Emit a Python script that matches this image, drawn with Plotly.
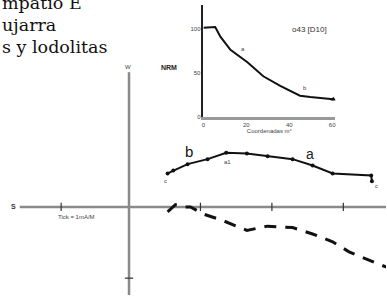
import plotly.graph_objects as go

# ---- main (Zijderveld-style) data, units = ticks ----
solid_x = [0.54, 0.62, 0.82, 1.10, 1.36, 1.65, 1.94, 2.29, 2.57, 2.85, 3.39, 3.40]
solid_y = [0.47, 0.51, 0.60, 0.67, 0.76, 0.75, 0.71, 0.67, 0.58, 0.47, 0.44, 0.36]
dash_x = [0.54, 0.65, 0.78, 0.86, 1.04, 1.31, 1.65, 1.94, 2.29, 2.57, 2.85, 3.08, 3.46, 3.70]
dash_y = [-0.07, 0.03, 0.00, 0.00, -0.10, -0.19, -0.33, -0.27, -0.29, -0.38, -0.49, -0.63, -0.79, -0.88]
hticks = [-0.95, 1, 2, 3]
vticks = [-1]

# ---- inset data ----
inset_x = [0, 5.5, 7.9, 12.6, 20.5, 27.9, 35.8, 45.0, 49.8, 60.5]
inset_y = [101, 102, 91, 76, 62, 46, 35, 24, 22.5, 20]
inset_xticks = [0, 20, 40, 60]
inset_yticks = [0, 50, 100]

fig = go.Figure()

# main axes lines
fig.add_trace(go.Scatter(x=[-1.53, 3.7], y=[0, 0], mode="lines",
                         line=dict(color="#8a8a8a", width=2.5), hoverinfo="skip"))
fig.add_trace(go.Scatter(x=[0, 0], y=[1.89, -1.3], mode="lines",
                         line=dict(color="#8a8a8a", width=2.5), hoverinfo="skip"))
fig.add_trace(go.Scatter(x=hticks, y=[0]*len(hticks), mode="markers",
                         marker=dict(symbol="line-ns", size=6, line=dict(color="#333", width=1.2))))
fig.add_trace(go.Scatter(x=[0]*len(vticks), y=vticks, mode="markers",
                         marker=dict(symbol="line-ew", size=6, line=dict(color="#333", width=1.2))))

# solid (horizontal projection)
fig.add_trace(go.Scatter(x=solid_x, y=solid_y, mode="lines+markers",
                         line=dict(color="#111", width=2),
                         marker=dict(color="#111", size=4)))
# dashed (vertical projection)
fig.add_trace(go.Scatter(x=dash_x, y=dash_y, mode="lines",
                         line=dict(color="#111", width=3, dash="12px,9px")))

# inset
fig.add_trace(go.Scatter(x=inset_x, y=inset_y, mode="lines", xaxis="x2", yaxis="y2",
                         line=dict(color="#111", width=2)))
fig.add_trace(go.Scatter(x=[inset_x[-1]], y=[inset_y[-1]], mode="markers", xaxis="x2", yaxis="y2",
                         marker=dict(symbol="triangle-up", color="#111", size=5)))

fig.update_layout(
    width=387, height=298, margin=dict(l=0, r=0, t=0, b=0),
    paper_bgcolor="white", plot_bgcolor="rgba(0,0,0,0)", showlegend=False,
    xaxis=dict(range=[-128/72, 259/72], domain=[0, 1], visible=False, fixedrange=True),
    yaxis=dict(range=[-89/72, 209/72], domain=[0, 1], visible=False, fixedrange=True),
    xaxis2=dict(domain=[203/387, 336/387], anchor="y2", range=[0, 61.5],
                showgrid=False, zeroline=False, showline=True, linecolor="#999", linewidth=2.5,
                tickvals=inset_xticks, ticks="", tickfont=dict(size=6, color="#444", family="Arial"),
                title=dict(text="Coordenadas m°", font=dict(size=6, color="#444", family="Arial"), standoff=2)),
    yaxis2=dict(domain=[(298-118)/298, (298-5)/298], anchor="x2", range=[0, 127],
                showgrid=False, zeroline=False, showline=True, linecolor="#222", linewidth=1.5,
                tickvals=inset_yticks, ticks="", tickfont=dict(size=6, color="#444", family="Arial")),
)

serif = dict(family="DejaVu Serif", size=17.5, color="#111")
for txt, yy in [("mpatio E", 3), ("ujarra", 25), ("s y lodolitas", 47)]:
    fig.add_annotation(xref="paper", yref="paper", x=-0.005, y=1 - yy/298, text=txt,
                       showarrow=False, xanchor="left", yanchor="middle", font=serif)

small = dict(family="Arial", size=6, color="#444")
ann = [
    (127, 68, "W", small),
    (168, 68, "<b>NRM</b>", dict(family="Arial", size=7, color="#222")),
    (12, 209, "<b>S</b>", dict(family="Arial", size=7, color="#333")),
    (75, 219, "Tick = 1mA/M", small),
    (310, 30, "o43 [D10]", dict(family="Arial", size=8, color="#333")),
    (243, 49, "a", small),
    (305, 89, "b", small),
    (188, 153, "b", dict(family="Arial", size=15, color="#111")),
    (310, 156, "a", dict(family="Arial", size=14, color="#222")),
    (227, 164, "a1", small),
    (165, 183, "c", small),
    (377, 188, "c", small),
]
for px, py, txt, f in ann:
    fig.add_annotation(xref="paper", yref="paper", x=px/387, y=1 - py/298, text=txt,
                       showarrow=False, xanchor="center", yanchor="middle", font=f)

fig.write_html("out.html", config={"displayModeBar": False},
               post_script="document.body.style.margin='0';document.body.style.overflow='hidden';")
